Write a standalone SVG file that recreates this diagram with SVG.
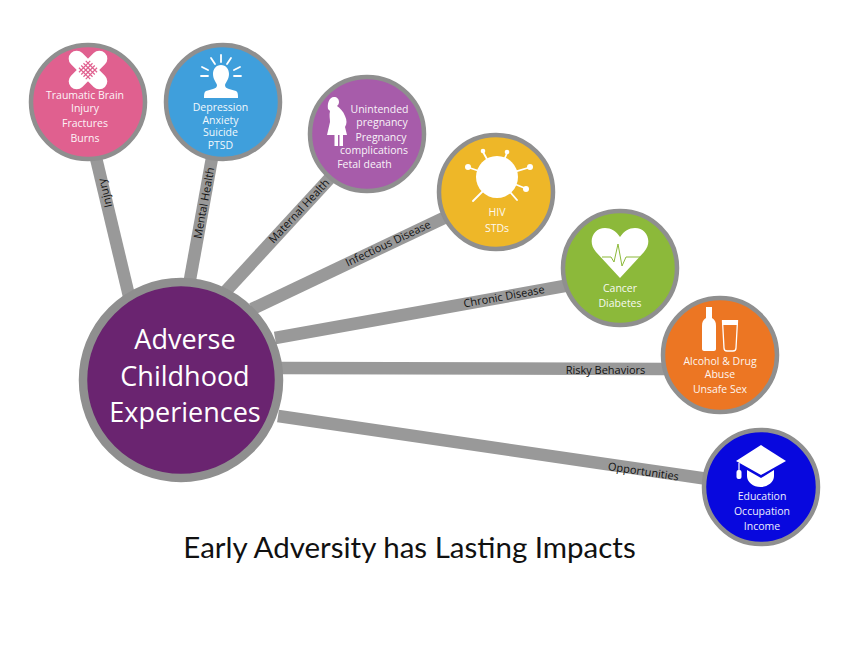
<svg xmlns="http://www.w3.org/2000/svg" width="862" height="649" viewBox="0 0 862 649">
<style>
.n{stroke:#8f8f8f;stroke-width:4.500}
.t{font-family:"Open Sans","Liberation Sans",sans-serif;fill:#fff;text-anchor:middle;font-size:10.5px;opacity:.93}
.l{font-family:"Open Sans","Liberation Sans",sans-serif;fill:#111;text-anchor:middle;font-size:11px}
.c{stroke:#999;fill:none;stroke-width:12.500}
.w{fill:#fff;stroke:none}
.s{stroke:#fff;fill:none;stroke-width:1.800;stroke-linecap:round}
</style>
<rect width="862" height="649" fill="#fff"/>
<g id="connectors">
<line class="c" x1="96" y1="158" x2="129" y2="296"/>
<line class="c" x1="212" y1="158" x2="189" y2="285"/>
<line class="c" x1="330" y1="178" x2="226" y2="291"/>
<line class="c" x1="448" y1="216" x2="252" y2="309"/>
<line class="c" x1="570" y1="285" x2="275" y2="338"/>
<line class="c" x1="665" y1="369" x2="280" y2="368"/>
<line class="c" x1="708" y1="479" x2="278" y2="416"/>
<text class="l" transform="translate(105,193) rotate(-103.500)" dy="3.800">Injury</text>
<text class="l" transform="translate(204,203) rotate(-79.500)" dy="3.800">Mental Health</text>
<text class="l" transform="translate(299,211) rotate(-47)" dy="3.800">Maternal Health</text>
<text class="l" transform="translate(388,243.500) rotate(-25.300)" dy="3.800">Infectious Disease</text>
<text class="l" transform="translate(504,296.500) rotate(-10.200)" dy="3.800">Chronic Disease</text>
<text class="l" x="605.500" y="373.500">Risky Behaviors</text>
<text class="l" transform="translate(643.500,471.500) rotate(8.300)" dy="3.800">Opportunities</text>
</g>
<g id="adverse">
<circle cx="181" cy="380" r="98" fill="#6a2470" stroke="#8f8f8f" stroke-width="8.500"/>
<g font-family="'Open Sans','Liberation Sans',sans-serif" font-size="27" fill="#fff" text-anchor="middle">
<text x="185" y="349">Adverse</text><text x="185" y="386">Childhood</text><text x="185" y="422">Experiences</text></g>
</g>
<g id="injury">
<circle class="n" cx="88" cy="102" r="57" fill="#e0608f"/>
<g transform="translate(88,70) rotate(45)"><rect class="w" x="-24" y="-8" width="48" height="16" rx="8"/><rect class="w" x="-8" y="-24" width="16" height="48" rx="8"/>
<path d="M-8-4.800H8M-8-1.600H8M-8 1.600H8M-8 4.800H8M-4.800-8V8M-1.600-8V8M1.600-8V8M4.800-8V8" stroke="#e0608f" stroke-width="1.200"/></g>
<text class="t" x="85" y="99">Traumatic Brain</text><text class="t" x="85" y="112">Injury</text><text class="t" x="85" y="127">Fractures</text><text class="t" x="85" y="142">Burns</text>
</g>
<g id="mental">
<circle class="n" cx="223" cy="102" r="57" fill="#3f9fdc"/>
<path class="w" d="M221 65c5 0 8 4 8 9 0 5-3 8-4 11 0 2 1 3 4 4l7 2c2 1 2 4 2 7h-34c0-3 0-6 2-7l7-2c3-1 4-2 4-4-1-3-4-6-4-11 0-5 3-9 8-9z"/>
<path class="s" d="M221 55v7M211 58l4 6M231 58l-4 6M202 67l6 3M240 67l-6 3M201 76h7M241 76h-7"/>
<text class="t" x="220.500" y="111">Depression</text><text class="t" x="220.500" y="123.500">Anxiety</text><text class="t" x="220.500" y="136">Suicide</text><text class="t" x="220.500" y="148.500">PTSD</text>
</g>
<g id="maternal">
<circle class="n" cx="367" cy="134" r="57" fill="#a75caa"/>
<path class="w" d="M334 97c3 0 5 2 5 5 0 2-1 3-2 4 3 2 6 5 8 10 2 4 2 8 0 11l2 8h-20l3-13c0-3-1-7 0-11l-2-2c-1-5 1-12 6-12z"/>
<rect class="w" x="334.500" y="135" width="3.500" height="11"/><rect class="w" x="339.500" y="135" width="3.500" height="11"/>
<text class="t" x="379.500" y="113">Unintended</text><text class="t" x="382" y="126">pregnancy</text><text class="t" x="381" y="141">Pregnancy</text><text class="t" x="374" y="153.500">complications</text><text class="t" x="364.500" y="168">Fetal death</text>
</g>
<g id="infectious">
<circle class="n" cx="496" cy="192" r="57" fill="#eeb728"/>
<circle class="w" cx="497" cy="177" r="21"/>
<path class="s" d="M497 177L483 152M497 177L507 153M497 177L467 167M497 177L531 167M497 177L527 189M497 177L473 201M497 177L517 200"/>
<g class="w"><circle cx="483" cy="151" r="2.300"/><circle cx="507" cy="152" r="2.300"/><circle cx="468" cy="167" r="3"/><circle cx="530" cy="167" r="3"/><circle cx="526" cy="189" r="3"/></g>
<text class="t" x="497" y="216">HIV</text><text class="t" x="497" y="232">STDs</text>
</g>
<g id="chronic">
<circle class="n" cx="620" cy="268" r="57" fill="#8cb93a"/>
<path class="w" d="M620 278l-24-26c-9-10-3-24 9-24 6 0 11 3 15 9 4-6 9-9 15-9 12 0 18 14 9 24z"/>
<path d="M602 257h9l3 5 4-18 4 22 4-9h14" fill="none" stroke="#8cb93a" stroke-width="1"/>
<text class="t" x="620" y="292">Cancer</text><text class="t" x="620" y="307">Diabetes</text>
</g>
<g id="risky">
<circle class="n" cx="720" cy="355" r="57" fill="#ec7623"/>
<path class="w" d="M706 307h6v11c3 2 4 4 4 8v23c0 1-1 2-2 2h-10c-1 0-2-1-2-2v-23c0-4 1-6 4-8z"/>
<path d="M722.500 321h15l-1.500 27q0 3-3 3h-6q-3 0-3-3z" fill="none" stroke="#fff" stroke-width="1.300"/>
<rect class="w" x="722" y="320" width="16" height="5"/>
<text class="t" x="720" y="365">Alcohol &amp; Drug</text><text class="t" x="720" y="378">Abuse</text><text class="t" x="720" y="393">Unsafe Sex</text>
</g>
<g id="opportunities">
<circle class="n" cx="761" cy="487" r="57" fill="#0808de"/>
<path class="w" d="M761 445l25 16-25 14-25-14z"/>
<path class="w" d="M747 470l14 8 13-8v6a13.500 11 0 0 1-27 0z"/>
<path d="M739 463v9" stroke="#fff" stroke-width="1.200"/><rect class="w" x="736.500" y="470" width="5" height="9" rx="2"/>
<text class="t" x="762" y="500">Education</text><text class="t" x="762" y="515">Occupation</text><text class="t" x="762" y="530">Income</text>
</g>
<text x="409.500" y="558" font-family="Lato,'Open Sans',sans-serif" font-size="29.500" fill="#111" text-anchor="middle">Early Adversity has Lasting Impacts</text>
</svg>
